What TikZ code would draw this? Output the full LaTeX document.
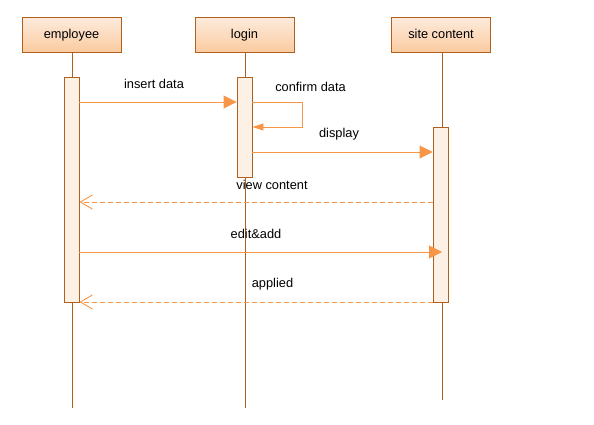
\documentclass[tikz,border=0pt]{standalone}
\usepackage{fontspec}
\setmainfont{Liberation Sans}
\usetikzlibrary{arrows.meta}
\definecolor{boxline}{HTML}{B0601E}
\definecolor{boxtop}{HTML}{FDEBDD}
\definecolor{boxbot}{HTML}{FBCBA0}
\definecolor{actfill}{HTML}{FDF0E5}
\definecolor{msg}{HTML}{F79646}
\tikzset{
  x=1pt, y=-1pt,
  every node/.style={font=\fontsize{12.8}{15}\selectfont, text=black},
  objbox/.style={draw=boxline, line width=1pt, top color=boxtop, bottom color=boxbot, minimum width=99pt, minimum height=35pt, inner sep=0pt, text height=9.3pt, text depth=1pt},
  lifeline/.style={draw=boxline, line width=0.9pt},
  act/.style={draw=boxline, line width=0.9pt, fill=actfill},
  call/.style={draw=msg, line width=0.9pt, -{Triangle[length=13pt,width=13pt]}},
  selfcall/.style={draw=msg, line width=0.9pt, -{Triangle[length=11pt,width=7pt]}},
  reply/.style={draw=msg, line width=0.9pt, dash pattern=on 5pt off 3pt, -{Straight Barb[length=12pt,width=14pt,line width=0.9pt]}},
  lbl/.style={inner sep=1pt}
}
\begin{document}
\begin{tikzpicture}
\useasboundingbox (0,0) rectangle (594,424);
% object boxes
\node[objbox] (emp) at (71.5,34.5) {employee};
\node[objbox] (log) at (244.5,34.5) {login};
\node[objbox] (site) at (441,34.5) {site content};
% lifeline ends
\coordinate (empend) at (72,408);
\coordinate (logend) at (245,408);
\coordinate (siteend) at (442,400);
\draw[lifeline] (emp.south -| empend) -- (empend);
\draw[lifeline] (log.south -| logend) -- (logend);
\draw[lifeline] (site.south -| siteend) -- (siteend);
% activations
\node[act, minimum width=15pt, minimum height=225pt, inner sep=0pt, anchor=north] (empact) at (71.5,77) {};
\node[act, minimum width=15pt, minimum height=100pt, inner sep=0pt, anchor=north] (logact) at (244.5,77) {};
\node[act, minimum width=15pt, minimum height=175pt, inner sep=0pt, anchor=north] (siteact) at (440.5,127) {};
% messages
\coordinate (m1s) at (empact.east |- 0,102);
\coordinate (m1e) at (logact.west |- 0,102);
\draw[call] (m1s) -- (m1e);
\node[lbl] (l1) at (154,84) {insert data};

\coordinate (m2s) at (logact.east |- 0,102);
\coordinate (m2a) at (302,102);
\coordinate (m2b) at (302,127);
\coordinate (m2e) at (logact.east |- 0,127);
\draw[selfcall] (m2s) -- (m2a) -- (m2b) -- (m2e);
\node[lbl] (l2) at (310.5,87) {confirm data};

\coordinate (m3s) at (logact.east |- 0,152);
\coordinate (m3e) at (siteact.west |- 0,152);
\draw[call] (m3s) -- (m3e);
\node[lbl] (l3) at (339,134) {display};

\coordinate (m4s) at (siteact.west |- 0,202);
\coordinate (m4e) at (empact.east |- 0,202);
\draw[reply] (m4s) -- (m4e);
\node[lbl] (l4) at (272,185) {view content};

\coordinate (m5s) at (empact.east |- 0,252);
\coordinate (m5e) at (442,252);
\draw[call] (m5s) -- (m5e);
\node[lbl] (l5) at (256,234) {edit\&add};

\coordinate (m6s) at (siteact.west |- 0,302);
\coordinate (m6e) at (empact.east |- 0,302);
\draw[reply] (m6s) -- (m6e);
\node[lbl] (l6) at (272.5,284) {applied};
\end{tikzpicture}
\end{document}
